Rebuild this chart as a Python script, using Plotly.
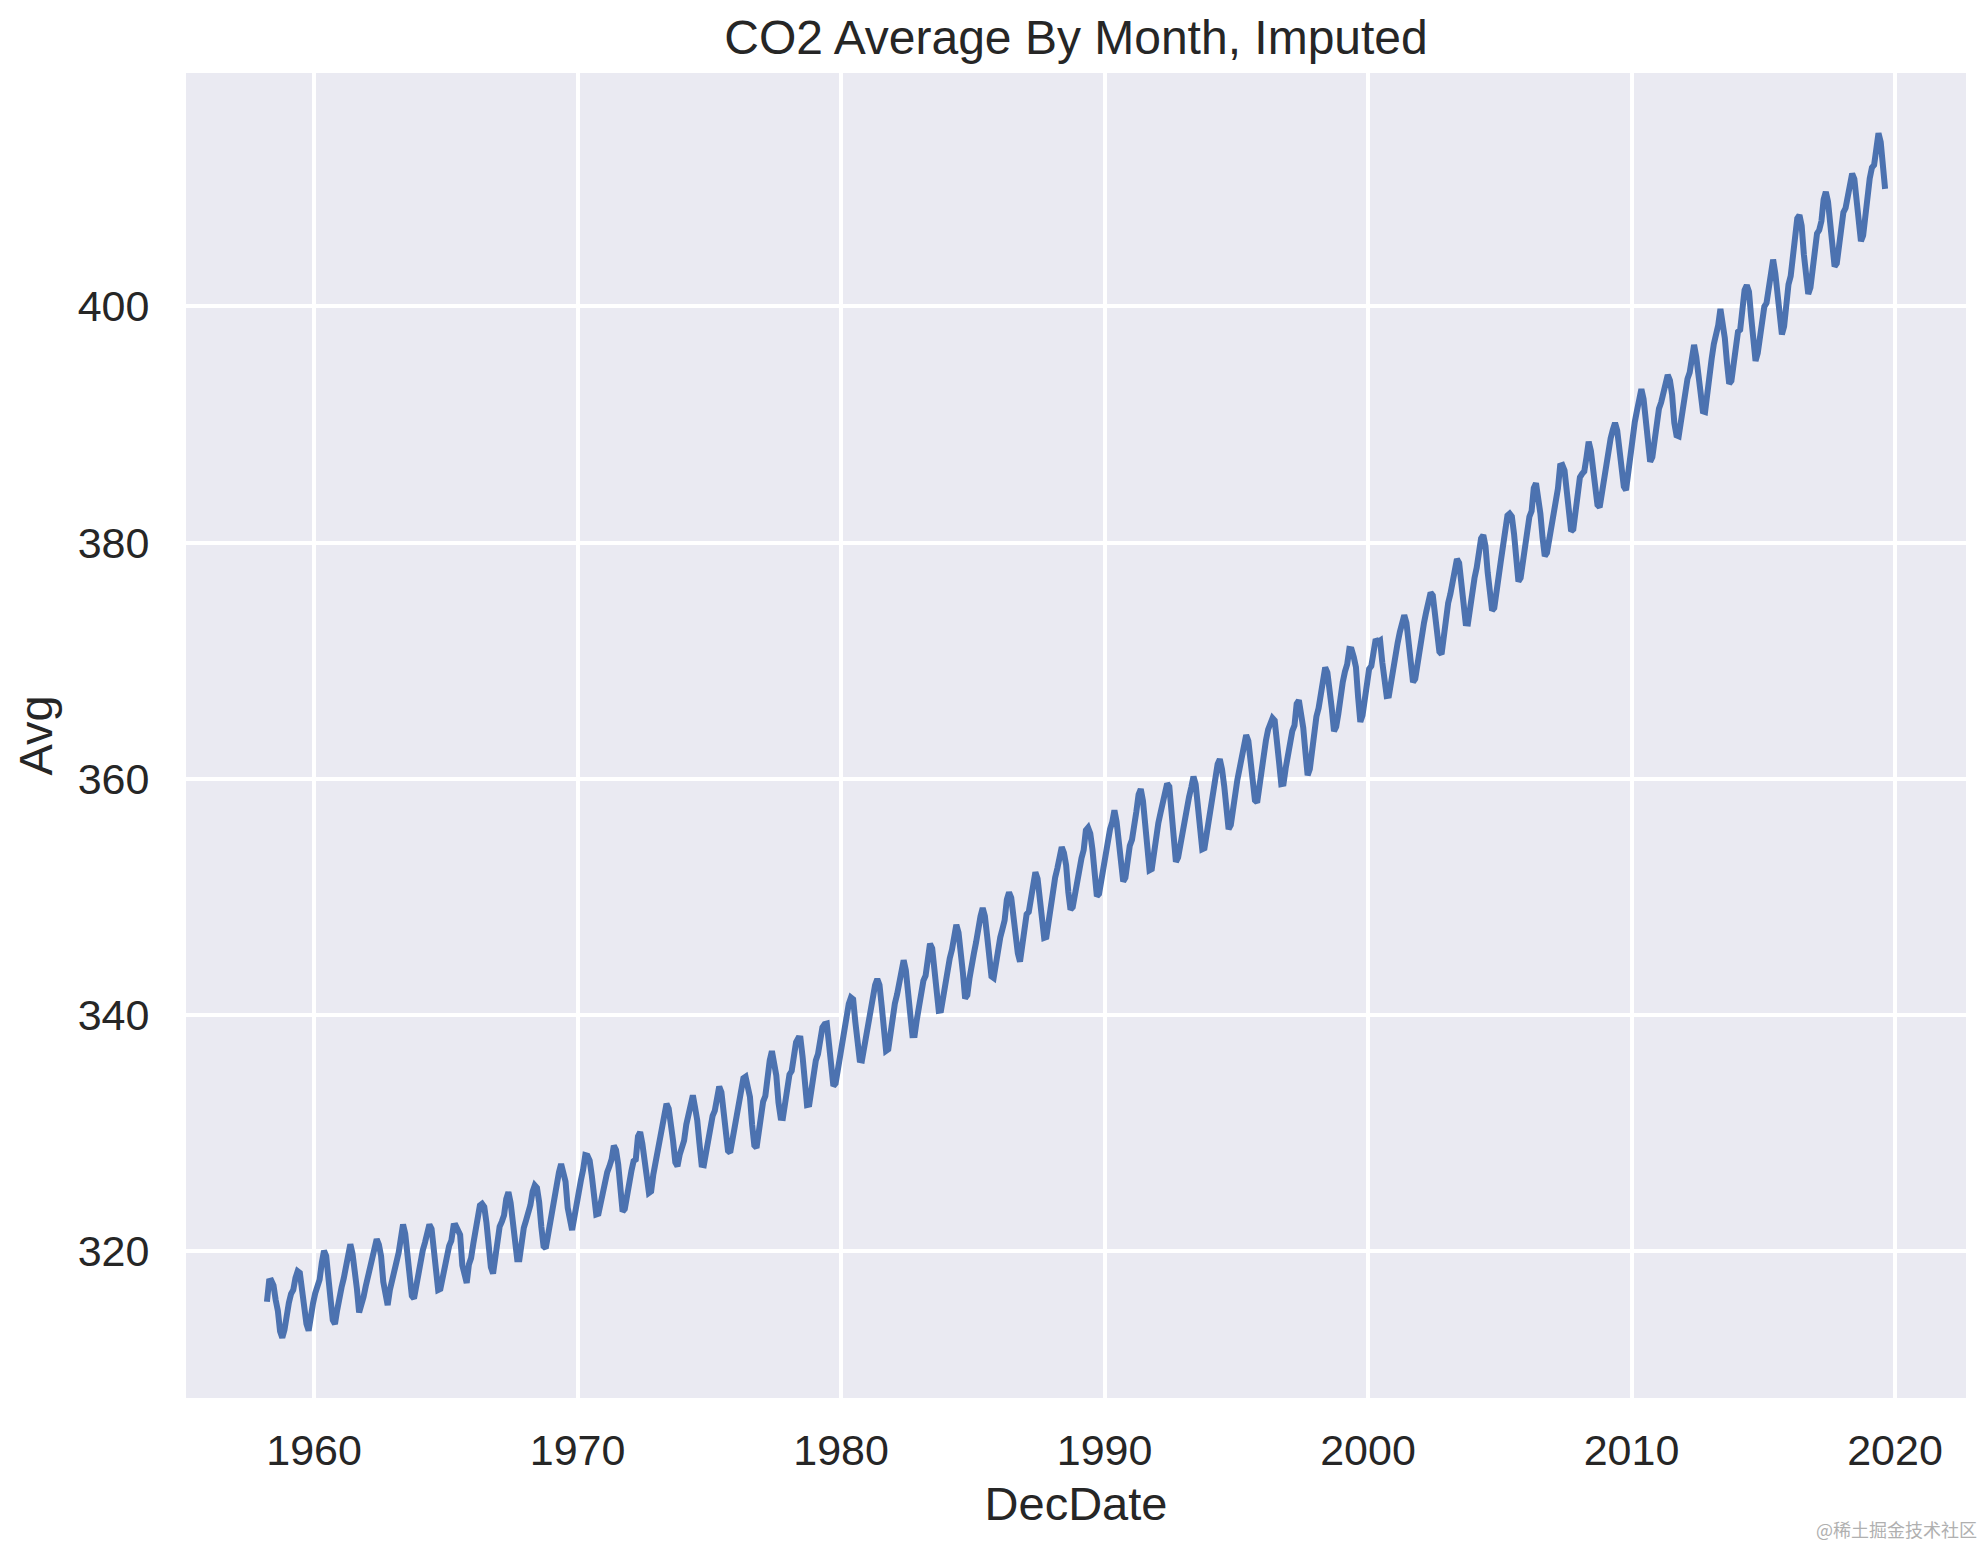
import plotly.graph_objects as go

# Monthly CO2 averages (ppm), Mauna Loa, imputed; series starts March 1958
start_year = 1958
start_month = 3

avg_1958 = [315.71, 317.45, 317.50, 317.10, 315.86, 314.93, 313.20, 312.66, 313.33, 314.67]
avg_1959 = [315.62, 316.38, 316.71, 317.72, 318.29, 318.15, 316.54, 314.80, 313.84, 313.26, 314.80, 315.58]
avg_1960 = [316.43, 316.97, 317.58, 319.02, 320.03, 319.59, 318.18, 315.91, 314.16, 313.83, 315.00, 316.19]
avg_1961 = [316.93, 317.70, 318.54, 319.48, 320.58, 319.77, 318.57, 316.79, 314.80, 315.38, 316.10, 317.01]
avg_1962 = [317.94, 318.56, 319.68, 320.63, 321.01, 320.55, 319.58, 317.40, 316.26, 315.42, 316.69, 317.69]
avg_1963 = [318.74, 319.08, 319.86, 321.39, 322.25, 321.47, 319.74, 317.77, 316.21, 315.99, 317.12, 318.31]
avg_1964 = [319.57, 320.07, 320.73, 321.77, 322.25, 321.89, 320.44, 318.70, 316.70, 316.79, 317.79, 318.71]
avg_1965 = [319.44, 320.44, 320.89, 322.13, 322.16, 321.87, 321.39, 318.80, 317.81, 317.30, 318.87, 319.42]
avg_1966 = [320.62, 321.59, 322.39, 323.87, 324.01, 323.75, 322.39, 320.37, 318.64, 318.10, 319.79, 321.08]
avg_1967 = [322.07, 322.50, 323.04, 324.42, 325.00, 324.09, 322.55, 320.92, 319.31, 319.31, 320.72, 321.96]
avg_1968 = [322.57, 323.15, 323.89, 325.02, 325.57, 325.36, 324.14, 322.03, 320.41, 320.25, 321.31, 322.84]
avg_1969 = [324.00, 324.42, 325.64, 326.66, 327.38, 326.70, 325.89, 323.67, 322.38, 321.78, 322.85, 324.11]
avg_1970 = [325.03, 325.99, 326.87, 328.13, 328.07, 327.66, 326.35, 324.69, 323.10, 323.16, 323.98, 325.13]
avg_1971 = [326.17, 326.68, 327.18, 327.78, 328.92, 328.57, 327.34, 325.46, 323.36, 323.57, 324.80, 326.01]
avg_1972 = [326.77, 327.63, 327.75, 329.72, 330.07, 329.09, 328.05, 326.32, 324.93, 325.06, 326.50, 327.55]
avg_1973 = [328.54, 329.56, 330.30, 331.50, 332.48, 332.07, 330.87, 329.31, 327.51, 327.18, 328.16, 328.64]
avg_1974 = [329.35, 330.71, 331.48, 332.65, 333.19, 332.16, 331.07, 329.12, 327.32, 327.28, 328.30, 329.58]
avg_1975 = [330.73, 331.46, 331.90, 333.17, 333.94, 333.45, 331.97, 329.95, 328.50, 328.34, 329.37, 330.58]
avg_1976 = [331.59, 332.75, 333.52, 334.64, 334.77, 334.00, 333.06, 330.68, 328.95, 328.75, 330.15, 331.62]
avg_1977 = [332.66, 333.13, 334.95, 336.13, 336.93, 336.17, 334.88, 332.56, 331.29, 331.27, 332.41, 333.60]
avg_1978 = [334.95, 335.25, 336.66, 337.69, 338.03, 338.01, 336.41, 334.41, 332.37, 332.41, 333.75, 334.90]
avg_1979 = [336.14, 336.69, 338.27, 338.95, 339.21, 339.26, 337.54, 335.75, 333.98, 334.19, 335.31, 336.81]
avg_1980 = [337.90, 338.34, 340.01, 340.93, 341.48, 341.33, 339.40, 337.70, 336.19, 336.15, 337.27, 338.32]
avg_1981 = [339.29, 340.55, 341.61, 342.53, 343.03, 342.54, 340.78, 338.44, 336.95, 337.08, 338.58, 339.88]
avg_1982 = [340.96, 341.73, 342.81, 343.97, 344.63, 343.79, 342.32, 340.09, 338.28, 338.29, 339.60, 340.90]
avg_1983 = [341.68, 342.90, 343.33, 345.25, 346.03, 345.63, 344.19, 342.27, 340.35, 340.38, 341.59, 343.05]
avg_1984 = [344.10, 344.79, 345.52, 346.84, 347.63, 346.97, 345.53, 343.55, 341.40, 341.67, 343.10, 344.70]
avg_1985 = [345.21, 346.16, 347.74, 348.34, 349.06, 348.38, 346.72, 345.02, 343.27, 343.13, 344.49, 345.88]
avg_1986 = [346.56, 347.28, 348.01, 349.77, 350.38, 349.93, 348.16, 346.08, 345.22, 344.51, 345.93, 347.21]
avg_1987 = [348.52, 348.73, 349.73, 351.31, 352.09, 351.53, 350.11, 348.08, 346.52, 346.59, 347.96, 349.16]
avg_1988 = [350.39, 351.64, 352.41, 353.69, 354.21, 353.72, 352.69, 350.40, 348.92, 349.13, 350.20, 351.41]
avg_1989 = [352.91, 353.27, 353.96, 355.64, 355.86, 355.37, 353.99, 351.81, 350.05, 350.25, 351.49, 352.85]
avg_1990 = [353.80, 355.04, 355.73, 356.32, 357.32, 356.34, 354.84, 353.01, 351.31, 351.62, 353.07, 354.33]
avg_1991 = [354.84, 355.73, 357.23, 358.66, 359.13, 358.13, 356.19, 353.85, 352.25, 352.35, 353.81, 355.12]
avg_1992 = [356.25, 357.11, 357.86, 359.09, 359.59, 359.33, 357.01, 354.94, 352.96, 353.32, 354.32, 355.57]
avg_1993 = [357.00, 357.31, 358.47, 359.27, 360.19, 359.52, 357.33, 355.64, 354.03, 354.12, 355.41, 356.91]
avg_1994 = [358.24, 358.92, 359.99, 361.23, 361.65, 360.81, 359.38, 357.46, 355.73, 356.08, 357.53, 358.98]
avg_1995 = [359.92, 360.86, 361.83, 363.30, 363.69, 363.19, 361.64, 359.12, 358.17, 357.99, 359.45, 360.68]
avg_1996 = [362.07, 363.24, 364.17, 364.57, 365.13, 364.92, 363.55, 361.38, 359.54, 359.58, 360.89, 362.24]
avg_1997 = [363.09, 364.03, 364.51, 366.35, 366.64, 365.59, 364.31, 362.25, 360.29, 360.82, 362.49, 364.38]
avg_1998 = [365.26, 365.98, 367.24, 368.66, 369.42, 368.99, 367.82, 365.95, 364.02, 364.40, 365.52, 367.13]
avg_1999 = [368.18, 369.07, 369.68, 370.99, 370.96, 370.30, 369.45, 366.90, 364.81, 365.37, 366.72, 368.10]
avg_2000 = [369.29, 369.54, 370.60, 371.82, 371.58, 371.70, 369.86, 368.13, 367.00, 367.03, 368.37, 369.67]
avg_2001 = [370.59, 371.51, 372.43, 373.37, 373.85, 373.21, 371.51, 369.61, 368.18, 368.45, 369.76, 371.24]
avg_2002 = [372.53, 373.20, 374.12, 375.02, 375.76, 375.52, 374.01, 371.85, 370.75, 370.55, 372.25, 373.79]
avg_2003 = [374.88, 375.64, 376.45, 377.73, 378.60, 378.28, 376.70, 374.38, 373.17, 373.15, 374.66, 375.99]
avg_2004 = [377.00, 377.87, 378.88, 380.35, 380.62, 379.69, 377.47, 376.01, 374.25, 374.46, 376.16, 377.51]
avg_2005 = [378.46, 379.73, 380.77, 382.29, 382.45, 382.21, 380.74, 378.74, 376.70, 377.00, 378.35, 380.11]
avg_2006 = [381.38, 382.19, 382.67, 384.61, 385.03, 384.05, 382.46, 380.41, 378.85, 379.13, 380.15, 381.82]
avg_2007 = [382.89, 383.90, 384.58, 386.50, 386.56, 386.10, 384.50, 381.99, 380.96, 381.12, 382.45, 383.95]
avg_2008 = [385.52, 385.82, 386.03, 387.21, 388.54, 387.76, 386.36, 384.09, 383.18, 382.99, 384.19, 385.56]
avg_2009 = [386.94, 387.48, 388.82, 389.55, 390.14, 389.48, 388.03, 386.11, 384.74, 384.43, 386.02, 387.42]
avg_2010 = [388.71, 390.20, 391.17, 392.46, 393.00, 392.15, 390.20, 388.35, 386.85, 387.24, 388.67, 389.79]
avg_2011 = [391.33, 391.86, 392.60, 393.25, 394.19, 393.74, 392.51, 390.13, 389.08, 389.00, 390.28, 391.86]
avg_2012 = [393.12, 393.86, 394.40, 396.18, 396.74, 395.71, 394.36, 392.39, 391.11, 391.05, 392.98, 394.34]
avg_2013 = [395.55, 396.80, 397.43, 398.41, 399.78, 398.60, 397.32, 395.20, 393.45, 393.70, 395.16, 396.84]
avg_2014 = [397.85, 398.01, 399.77, 401.38, 401.78, 401.25, 399.10, 397.03, 395.38, 396.03, 397.28, 398.91]
avg_2015 = [399.98, 400.28, 401.54, 403.28, 403.96, 402.80, 401.31, 398.93, 397.63, 398.29, 400.16, 401.85]
avg_2016 = [402.56, 404.12, 404.87, 407.45, 407.72, 406.83, 404.41, 402.27, 401.05, 401.59, 403.55, 404.45]
avg_2017 = [406.17, 406.46, 407.22, 409.04, 409.69, 408.88, 407.12, 405.13, 403.37, 403.63, 405.12, 406.81]
avg_2018 = [407.96, 408.32, 409.41, 410.24, 411.24, 410.79, 408.71, 406.99, 405.51, 406.00, 408.02, 409.07]
avg_2019 = [410.83, 411.75, 411.97, 413.32, 414.66, 413.92, 411.77, 409.95]

yearly = [avg_1958, avg_1959, avg_1960, avg_1961, avg_1962, avg_1963, avg_1964, avg_1965,
          avg_1966, avg_1967, avg_1968, avg_1969, avg_1970, avg_1971, avg_1972, avg_1973,
          avg_1974, avg_1975, avg_1976, avg_1977, avg_1978, avg_1979, avg_1980, avg_1981,
          avg_1982, avg_1983, avg_1984, avg_1985, avg_1986, avg_1987, avg_1988, avg_1989,
          avg_1990, avg_1991, avg_1992, avg_1993, avg_1994, avg_1995, avg_1996, avg_1997,
          avg_1998, avg_1999, avg_2000, avg_2001, avg_2002, avg_2003, avg_2004, avg_2005,
          avg_2006, avg_2007, avg_2008, avg_2009, avg_2010, avg_2011, avg_2012, avg_2013,
          avg_2014, avg_2015, avg_2016, avg_2017, avg_2018, avg_2019]

x_ticks = [1960, 1970, 1980, 1990, 2000, 2010, 2020]
y_ticks = [320, 340, 360, 380, 400]

dec_date = []
avg = []
for i, vals in enumerate(yearly):
    year = start_year + i
    first_month = start_month if i == 0 else 1
    for j, v in enumerate(vals):
        month = first_month + j
        dec_date.append(year + (month - 0.5) / 12.0)
        avg.append(v)

def padded(lo, hi, frac=0.05):
    span = hi - lo
    return [lo - frac * span, hi + frac * span]

FONT = "Liberation Sans, Arial, Helvetica, sans-serif"
TXT = "#262626"

fig = go.Figure(go.Scatter(
    x=dec_date, y=avg, mode="lines",
    line=dict(color="#4C72B0", width=6),
    hoverinfo="skip", showlegend=False,
))

fig.update_layout(
    width=1978, height=1533,
    margin=dict(l=178, r=20, t=65, b=143),
    paper_bgcolor="white",
    plot_bgcolor="#EAEAF2",
    font=dict(family=FONT, color=TXT),
    title=dict(text="CO2 Average By Month, Imputed", x=0.5, xref="paper",
               y=1, yref="paper", yanchor="bottom", pad=dict(b=19),
               font=dict(size=48, family=FONT, color=TXT)),
    showlegend=False,
)

fig.update_xaxes(
    range=padded(min(dec_date), max(dec_date)),
    tickvals=x_ticks, ticktext=[str(t) for t in x_ticks],
    showgrid=True, gridcolor="white", gridwidth=3.5,
    zeroline=False, showline=False,
    ticks="outside", ticklen=14, tickcolor="rgba(0,0,0,0)",
    tickfont=dict(size=43, family=FONT, color=TXT),
    title=dict(text="DecDate", font=dict(size=47, family=FONT, color=TXT), standoff=14),
)
fig.update_yaxes(
    range=padded(min(avg), max(avg)),
    tickvals=y_ticks, ticktext=[str(t) for t in y_ticks],
    showgrid=True, gridcolor="white", gridwidth=3.5,
    zeroline=False, showline=False,
    ticks="outside", ticklen=27, tickcolor="rgba(0,0,0,0)",
    tickfont=dict(size=43, family=FONT, color=TXT),
    title=dict(text="Avg", font=dict(size=47, family=FONT, color=TXT), standoff=10),
)

fig.add_annotation(
    text="@稀土掘金技术社区", xref="paper", yref="paper",
    x=1.0075, y=-0.099, xanchor="right", yanchor="middle", showarrow=False,
    font=dict(size=18, family="Noto Sans CJK SC", color="#b0b0b0"),
)

fig.write_html("out.html")
